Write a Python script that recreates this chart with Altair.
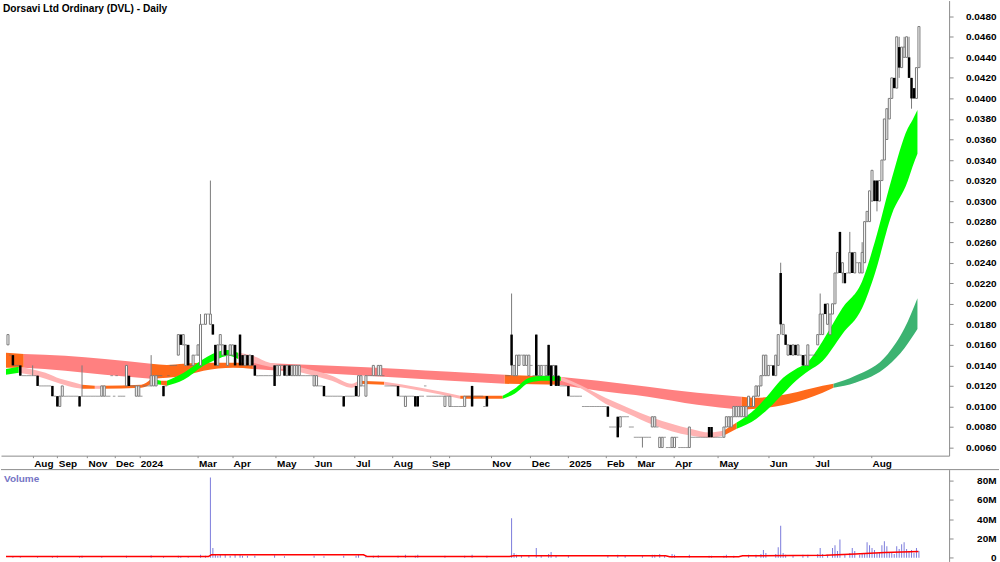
import altair as alt
import pandas as pd

FONT = "Liberation Sans, Arial, sans-serif"
TITLE = "Dorsavi Ltd Ordinary (DVL) - Daily"

# ---- daily OHLC, in units of 0.001 AUD (None = no bar) ----
opens = [16,15,15,14,14,14,13,13,13,13, 13,13,13,12,12,12,12,12,12,11, 11,10,11,11,11,11,11,11,11,11,
         11,11,11,11,11,11,11,11,11,11, 11,11,13,11,13,11,11,11,12,13, 12,12,11,11,11,12,12,12,12,12,
         12,13,13,12,12,13,14,14,14,15, 17,16,14,16,14,14,15,15,14,18, 18,19,18,18,16,14,16,15,16,14,
         15,15,16,15,17,15,14,15,14,15, 14,13,13,13,13,13,13,13,14,13, 13,14,14,13,14,13,13,13,13,13,
         13,13,13,13,12,12,12,12,12,11, 11,11,11,11,11,11,11,11,11,11, 11,12,11,12,12,11,13,13,13,13,
         13,13,13,12,12,12,12,12,12,11, 11,10,11,11,11,11,11,11,11,12, 11,11,11,11,11,11,11,10,11,10,
         10,10,10,10,10,10,11,11,12,11, 11,11,11,10,11,None,None,None,None,None,
         None,None,13,13,17,13,13,14,15,14, 14,13,14,13,17,13,13,14,13,16, 14,13,14,13,12,12,12,12,11,11,
         11,11,11,10,10,10,10,10,10,10, 10,10,10,10,8,8,8,9,8,9, 9,9,8,8,7,7,7,7,7,7,
         7,8,8,8,6,6,7,6,6,6, 6,7,6,6,6,6,6,7,7,7, 7,7,7,7,8,8,7,7,7,7,
         7,8,8,8,9,9,9,9,9,9, 10,10,10,11,11,12,13,13,13,14, 14,13,14,23,17,17,15,16,15,16,
         15,15,15,14,14,15,15,15,16,17, 17,20,18,17,19,20,23,27,23,23, 23,23,25,23,24,23,23,24,28,28,
         30,32,32,30,32,34,36,38,40,42, 41,45,43,44,44,44,42,41,40,43]
highs = [17,15,15,14,14,14,13,13,13,13, 14,13,13,12,12,12,12,12,12,11, 11,11,12,11,11,11,11,11,11,11,
         14,11,11,11,11,11,11,11,12,12, 11,11,13,11,13,11,11,11,14,13, 12,12,12,12,11,12,12,12,15,13,
         13,13,13,12,12,13,14,14,14,17, 17,17,16,16,14,15,15,16,19,18, 19,19,32,18,16,16,17,16,16,15,
         16,16,16,15,17,15,15,15,15,15, 14,13,13,13,13,13,13,13,14,14, 14,14,14,14,14,14,14,14,14,13,
         13,13,13,13,13,13,12,12,12,11, 11,11,11,11,11,11,11,11,11,11, 11,12,13,13,12,13,13,13,14,13,
         14,14,13,12,12,12,12,12,12,11, 11,11,11,11,11,11,11,11,11,12, 11,11,11,11,11,11,11,11,11,11,
         10,10,10,10,10,11,11,11,12,11, 11,11,11,10,11,None,None,None,None,None,
         None,None,13,13,21,14,15,15,15,15, 15,15,14,13,17,14,14,14,14,16, 14,14,14,13,12,12,12,12,11,11,
         11,11,11,10,10,10,10,10,10,10, 10,10,10,10,8,8,8,9,9,9, 9,9,8,8,7,7,7,7,7,7,
         7,9,9,8,7,7,7,6,6,7, 7,7,6,6,6,6,8,7,7,7, 7,7,7,7,8,8,7,7,7,7,
         8,9,9,9,10,10,10,10,10,10, 11,10,11,12,12,13,15,15,14,14, 14,15,17,24,18,17,16,16,16,16,
         16,15,15,15,16,15,15,15,17,21, 19,20,20,19,20,23,25,27,24,23, 23,27,25,25,24,24,26,28,29,31,
         33,32,32,32,34,38,39,40,42,42, 46,46,45,46,46,46,42,41,43,47]
lows = [16,15,14,14,14,13,13,13,13,13, 13,13,12,12,12,12,12,12,11,11, 10,10,11,11,11,11,11,11,11,10,
        11,11,11,11,11,11,11,11,11,11, 11,11,13,11,13,11,11,11,12,12, 12,12,11,11,11,12,12,12,12,12,
        12,13,13,11,12,13,14,14,14,15, 16,16,14,14,14,14,15,15,14,18, 18,19,18,17,14,14,16,15,15,14,
        15,15,14,15,14,14,14,14,14,14, 13,13,13,13,13,13,13,13,12,13, 13,14,13,13,13,13,13,13,13,13,
        13,13,13,13,12,12,12,12,11,11, 11,11,11,11,11,11,10,11,11,11, 11,11,11,12,12,11,13,13,13,13,
        13,13,13,12,12,12,12,12,11,11, 11,10,11,11,11,10,10,11,11,12, 11,11,11,11,11,11,11,10,11,10,
        10,10,10,10,10,10,11,11,10,11, 11,11,11,10,10,None,None,None,None,None,
        None,None,13,13,13,13,13,14,15,14, 14,13,14,13,13,13,13,14,13,13, 12,13,12,12,12,12,12,11,11,11,
        11,11,11,10,10,10,10,10,10,10, 10,10,10,9,8,8,8,7,8,9, 9,9,8,8,7,7,7,6,7,7,
        7,8,8,8,6,6,7,6,6,6, 6,7,6,6,6,6,6,7,7,7, 7,7,7,7,7,7,7,7,7,7,
        7,8,8,8,9,9,9,9,9,9, 10,10,10,11,11,12,13,13,13,14, 13,13,14,17,17,16,15,15,15,15,
        15,15,14,14,14,15,15,15,16,17, 17,19,18,17,19,20,23,23,22,22, 23,23,23,23,24,23,23,24,28,28,
        30,30,29,30,32,34,36,38,40,41, 41,42,43,44,44,42,39,40,40,43]
closes = [17,15,14,14,14,13,13,13,13,13, 13,13,12,12,12,12,12,12,11,11, 10,11,12,11,11,11,11,11,11,10,
          11,11,11,11,11,11,11,11,12,12, 11,11,13,11,13,11,11,11,14,12, 12,12,12,12,11,12,12,12,13,13,
          13,13,13,11,12,13,14,14,14,17, 16,17,16,14,14,15,15,16,18,18, 19,19,19,17,14,16,17,16,15,15,
          16,16,14,15,14,14,15,14,15,14, 13,13,13,13,13,13,13,13,12,14, 14,14,13,14,13,14,14,14,14,13,
          13,13,13,13,13,13,12,12,11,11, 11,11,11,11,11,11,10,11,11,11, 11,11,13,13,12,13,13,13,14,13,
          14,14,13,12,12,12,12,12,11,11, 11,11,11,11,11,10,10,11,11,12, 11,11,11,11,11,11,11,11,11,11,
          10,10,10,10,10,11,11,11,10,11, 11,11,11,10,10,None,None,None,None,None,
          None,None,13,13,14,14,15,15,15,15, 15,15,14,13,13,14,14,14,14,13, 12,14,12,12,12,12,12,11,11,11,
          11,11,11,10,10,10,10,10,10,10, 10,10,10,9,8,8,8,7,9,9, 9,9,8,8,7,7,7,7,7,7,
          7,9,9,8,7,7,7,6,6,7, 7,7,6,6,6,6,8,7,7,7, 7,7,7,7,7,7,7,7,7,7,
          8,9,9,9,10,10,10,10,10,10, 11,10,11,12,12,13,15,15,14,14, 13,15,17,18,18,16,16,15,16,15,
          16,15,14,15,16,15,15,15,17,19, 19,19,20,19,20,23,25,23,24,22, 23,25,23,25,24,24,25,28,29,31,
          33,30,30,32,34,38,39,40,42,41, 46,43,45,45,46,42,40,40,43,47]

# ---- moving-average ribbons (bar position, upper, lower in 0.001 AUD, colour of following segment) ----
long_i = [-0.8, 6.4, 23.2, 39.2, 58, 64.4, 71.2, 79.2, 91.2, 99.2, 111.2, 131.2, 159.2, 179.2, 201.2,
          223.2, 239.2, 259.2, 279.2, 297.2, 303.2, 316.4, 330, 334.4, 343.2, 356.4, 363.2, 368.4]
long_hi = [15.22, 15.12, 14.93, 14.63, 14.15, 14.05, 14.15, 14.25, 14.25, 14.25, 14.15, 13.96, 13.66, 13.37,
           13.08, 12.89, 12.50, 11.92, 11.33, 10.95, 10.85, 11.24, 12.02, 12.21, 12.98, 15.12, 17.64, 20.55]
long_lo = [13.76, 13.76, 13.47, 13.08, 12.69, 12.79, 12.98, 13.47, 13.76, 13.66, 13.47, 13.18, 12.79, 12.50,
           12.21, 12.11, 11.53, 10.95, 10.17, 9.69, 9.78, 10.27, 11.33, 11.82, 12.31, 13.96, 15.70, 17.54]
long_col = ["orange", "red", "red", "red", "orange", "orange", "orange", "orange", "orange", "red", "red",
            "red", "red", "red", "orange", "red", "red", "red", "red", "orange", "orange", "orange", "orange",
            "dgreen", "dgreen", "dgreen", "dgreen", "dgreen"]

short_i = [-0.8, 4.4, 9.2, 15.2, 21.2, 27.2, 30, 35.2, 38, 54, 58, 62, 64.4, 71.2, 79.2, 86, 89.2, 93.2, 99.2,
           106, 119.2, 131.2, 139.2, 142, 152.4, 167.2, 183.2, 200.4, 205.2, 211.2, 217.2, 224, 232.4, 242,
           251.2, 261.2, 276.4, 284.4, 290, 295.2, 303.2, 308.4, 314, 319.2, 324.4, 330, 338, 346, 351.2, 358,
           364.4, 366.4, 368.4]
short_hi = [13.66, 13.86, 13.66, 13.28, 12.69, 12.31, 12.11, 12.02, 12.02, 12.11, 12.69, 12.50, 12.50, 13.28,
            14.63, 15.41, 15.51, 15.22, 14.93, 14.25, 13.76, 12.98, 12.21, 12.50, 12.40, 11.82, 11.04, 11.04,
            11.72, 12.79, 12.98, 12.89, 12.02, 10.85, 9.88, 8.91, 7.84, 7.46, 7.65, 8.43, 9.88, 11.24, 12.79,
            13.66, 14.44, 16.38, 19.58, 22.20, 26.08, 32.19, 37.04, 37.91, 38.88]
short_lo = [13.08, 13.28, 13.08, 12.69, 12.21, 11.82, 11.72, 11.72, 11.72, 11.82, 12.21, 12.11, 12.02, 12.60,
            13.96, 14.73, 14.93, 14.63, 14.25, 13.86, 13.28, 12.50, 11.82, 12.21, 12.11, 11.53, 10.75, 10.75,
            11.24, 12.31, 12.50, 12.50, 11.72, 10.27, 9.30, 8.23, 7.17, 6.97, 7.17, 7.84, 8.81, 9.88, 11.24,
            12.50, 13.47, 14.44, 17.06, 19.58, 22.98, 28.70, 31.90, 33.35, 34.62]
short_col = ["green", "pink", "pink", "pink", "pink", "pink", "orange", "pink", "orange", "orange", "green",
             "orange", "green", "green", "green", "green", "green", "pink", "pink", "pink", "pink", "pink",
             "pink", "orange", "pink", "pink", "orange", "green", "green", "green", "green", "pink", "pink",
             "pink", "pink", "pink", "pink", "pink", "orange", "green", "green", "green", "green", "green",
             "green", "green", "green", "green", "green", "green", "green", "green", "green"]

# ---- volume (millions) ----
vol_i = [2, 5, 12, 18, 20, 29, 30, 38, 48, 58, 63, 69, 70, 73, 78, 80,
         82, 83, 84, 85, 86, 88, 90, 92, 94, 95, 97, 100, 108, 112, 124, 128, 136, 141, 142, 145, 148, 150,
         158, 161, 165, 166, 177, 185, 188, 194,
         204, 205, 206, 208, 211, 214, 216, 219, 220, 222, 227, 243, 247, 250, 257, 261, 262, 264, 266, 269,
         270, 276, 284, 285, 290, 291, 294, 300, 303, 305, 306, 307, 311, 312, 313, 314, 315, 318, 322, 324,
         328, 329, 330, 332, 334, 335, 336, 337, 339, 341, 342, 343, 345, 346, 347, 348, 349, 350, 351, 352,
         353, 354, 355, 356, 357, 358, 359, 360, 361, 362, 363, 364, 365, 366, 367, 368, 369]
vol_m = [1.5, 1, 1.5, 1, 2, 1, 2, 1.5, 2, 2.5, 1, 2, 1.5, 1.5, 3, 2,
         83, 10, 3, 2, 4, 3, 2, 3, 4, 2, 2, 2, 2.5, 1.5, 2, 1.5, 2, 2, 3, 2, 2, 2.5,
         2, 3, 2, 3, 2, 2, 3, 2,
         41, 5, 3, 2, 2, 10, 2, 4, 6, 2, 2, 2, 3, 2, 2, 3, 3, 4, 2, 4,
         3, 3, 2, 2, 2, 3, 2, 3, 3, 4, 8, 5, 4, 11, 33, 5, 3, 2, 3, 3,
         4, 10, 4, 3, 10, 13, 7, 19, 4, 5, 10, 7, 3, 4, 5, 16, 13, 10, 8, 5,
         6, 13, 17, 12, 6, 5, 4, 12, 9, 14, 16, 9, 7, 8, 5, 10, 7]
vma_i = [-0.8, 81.2, 82.4, 144, 145.6, 203.2, 204.8, 266.4, 268, 296, 297.6, 331.2, 343.2, 355.2, 368.8]
vma_m = [1.2, 1.2, 3.0, 3.0, 1.2, 1.2, 2.0, 2.0, 1.0, 1.0, 2.0, 2.5, 4.0, 5.5, 6.5]

# ---- x axis month marks (bar position -> label) ----
tick_pos = [10, 20, 32, 43.2, 53.2, 76.8, 90.8, 108.4, 123.6, 140.4, 155.6, 171.2, 178.8, 195.6, 211.6,
            226.8, 242, 254.4, 269.6, 287.6, 308, 326.4, 349.6]
tick_lab = ["Aug", "Sep", "Nov", "Dec", "2024", "Mar", "Apr", "May", "Jun", "Jul", "Aug", "Sep", "", "Nov",
            "Dec", "2025", "Feb", "Mar", "Apr", "May", "Jun", "Jul", "Aug"]
price_ticks = [0.006, 0.008, 0.010, 0.012, 0.014, 0.016, 0.018, 0.020, 0.022, 0.024, 0.026, 0.028, 0.030,
               0.032, 0.034, 0.036, 0.038, 0.040, 0.042, 0.044, 0.046, 0.048]

# ---------------- build tables ----------------
rows = []
for k in range(len(opens)):
    if opens[k] is None:
        continue
    o, h, l, c = opens[k] / 1000, highs[k] / 1000, lows[k] / 1000, closes[k] / 1000
    kind = "up" if c > o else ("down" if c < o else "flat")
    rows.append(dict(i=k, o=o, h=h, l=l, c=c, lo=min(o, c), hi=max(o, c), kind=kind))
candles = pd.DataFrame(rows)


def band_rows(xs, his, los, cols, prefix):
    out = []
    seg = 0
    for k in range(len(xs)):
        if k > 0 and cols[k] != cols[k - 1]:
            seg += 1
        out.append(dict(i=xs[k], hi=his[k] / 1000, lo=los[k] / 1000, col=cols[k], seg=f"{prefix}{seg}"))
        if k > 0 and cols[k] != cols[k - 1]:
            out.append(dict(i=xs[k], hi=his[k] / 1000, lo=los[k] / 1000, col=cols[k - 1],
                            seg=f"{prefix}{seg - 1}"))
    return pd.DataFrame(out)


long_df = band_rows(long_i, long_hi, long_lo, long_col, "L")
short_df = band_rows(short_i, short_hi, short_lo, short_col, "S")
vol_df = pd.DataFrame(dict(i=vol_i, v=vol_m))
vma_df = pd.DataFrame(dict(i=vma_i, m=vma_m))

band_scale = alt.Scale(domain=["red", "orange", "dgreen", "pink", "green"],
                       range=["#FF8080", "#FF6A1A", "#3CB371", "#FFB3B3", "#00FF00"])

xscale = alt.Scale(domain=[-0.8, 379.2], nice=False, zero=False)
yscale = alt.Scale(domain=[0.00521, 0.04953], nice=False, zero=False)

labexpr = "[" + ",".join(f"'{t}'" for t in tick_lab) + "][indexof([" + ",".join(str(p) for p in tick_pos) + "], datum.value)]"
xaxis = alt.Axis(values=tick_pos, labelExpr=labexpr, labelAlign="left", labelOffset=1, labelBaseline="top",
                 tickSize=2, labelPadding=1, labelOverlap=False, labelFlush=False, grid=False,
                 domainColor="#8C8C8C", tickColor="#8C8C8C", title=None)
yaxis = alt.Axis(orient="right", values=price_ticks, format=".4f", tickSize=4, labelAlign="right",
                 labelPadding=43, grid=False, domainColor="#8C8C8C", tickColor="#8C8C8C", title=None)

X = alt.X("i:Q", scale=xscale, axis=xaxis, title=None)


def Y(field):
    return alt.Y(field, type="quantitative", scale=yscale, axis=yaxis, title=None)


long_layer = alt.Chart(long_df).mark_area(interpolate="monotone").encode(
    x=X, y=Y("hi"), y2="lo",
    color=alt.Color("col:N", scale=band_scale, legend=None), detail="seg:N")
short_layer = alt.Chart(short_df).mark_area(interpolate="monotone").encode(
    x=X, y=Y("hi"), y2="lo",
    color=alt.Color("col:N", scale=band_scale, legend=None), detail="seg:N")

base = alt.Chart(candles)
wicks = base.transform_filter("datum.h > datum.l").mark_rule(color="#7A7A7A", strokeWidth=1).encode(
    x=X, y=Y("l"), y2="h")
ups = base.transform_filter("datum.kind == 'up'").mark_bar(size=2, fill="white", stroke="#7A7A7A",
                                                           strokeWidth=1).encode(x=X, y=Y("lo"), y2="hi")
downs = base.transform_filter("datum.kind == 'down'").mark_bar(size=2.5, color="black").encode(
    x=X, y=Y("lo"), y2="hi")
flats = base.transform_filter("datum.kind == 'flat'").mark_tick(orient="horizontal", size=2.5, thickness=1,
                                                                 color="#6E6E6E").encode(x=X, y=Y("c"))
title = alt.Chart(pd.DataFrame({"t": [TITLE]})).mark_text(
    align="left", baseline="top", font=FONT, fontSize=10.2, fontWeight="bold", color="black").encode(
    x=alt.value(2), y=alt.value(3), text="t:N")

price = alt.layer(long_layer, short_layer, wicks, ups, downs, flats, title).properties(width=950, height=456)

vx = alt.X("i:Q", scale=xscale, axis=None)
vy_scale = alt.Scale(domain=[-3.8, 91.2], nice=False, zero=False)
vaxis = alt.Axis(orient="right", values=[0, 20, 40, 60, 80],
                 labelExpr="datum.value == 0 ? '0' : datum.value + 'M'", tickSize=4, labelAlign="right",
                 labelPadding=43, grid=False, domainColor="#8C8C8C", tickColor="#8C8C8C", title=None)
vbars = alt.Chart(vol_df).mark_bar(size=1, color="#7C7CDC").encode(
    x=vx, y=alt.Y("v:Q", scale=vy_scale, axis=vaxis, title=None))
vline = alt.Chart(vma_df).mark_line(color="#FF0000", strokeWidth=1.5).encode(
    x=vx, y=alt.Y("m:Q", scale=vy_scale, axis=vaxis, title=None))
vtop = alt.Chart(pd.DataFrame({"a": [0]})).mark_rule(color="#8C8C8C", strokeWidth=1).encode(
    x=alt.value(0), x2=alt.value(1000), y=alt.value(0))
vlabel = alt.Chart(pd.DataFrame({"t": ["Volume"]})).mark_text(
    align="left", baseline="top", font=FONT, fontSize=10, fontWeight="bold", color="#7474C4").encode(
    x=alt.value(3), y=alt.value(4), text="t:N")
volume = alt.layer(vbars, vline, vtop, vlabel).properties(width=950, height=92)

chart = alt.vconcat(price, volume, spacing=0).properties(
    padding={"left": 0, "top": 0, "right": 0, "bottom": 0}, background="white"
).configure_view(strokeWidth=0).configure_axis(
    labelFont=FONT, labelFontSize=10, labelFontWeight="bold", labelColor="black")

chart.save("out.html", embed_options={"renderer": "svg", "actions": False})
